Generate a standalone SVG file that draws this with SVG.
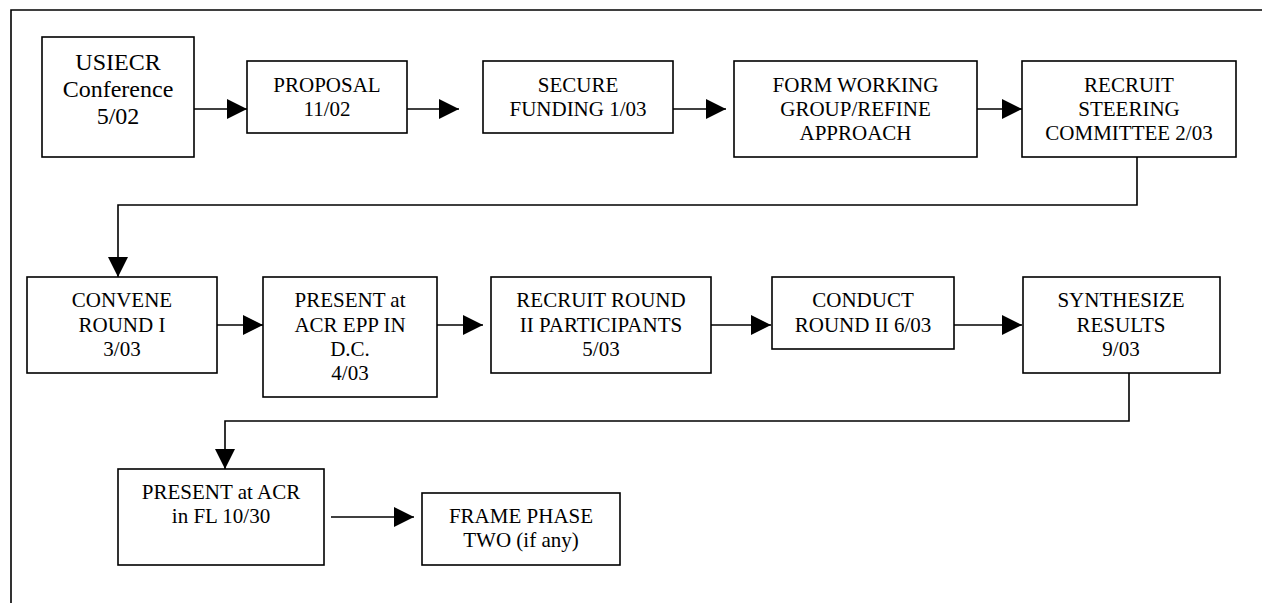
<svg xmlns="http://www.w3.org/2000/svg" width="1262" height="603" viewBox="0 0 1262 603">
<style>
  .box { fill: #fff; stroke: #000; stroke-width: 1.6; }
  .t { font-family: "Liberation Serif", "Times New Roman", serif; font-size: 21px; fill: #000; text-anchor: middle; }
  .t24 { font-size: 24px; }
  .ln { fill: none; stroke: #000; stroke-width: 1.6; }
</style>
<defs>
  <marker id="ah" markerUnits="userSpaceOnUse" markerWidth="20" markerHeight="20" refX="20" refY="10" orient="auto">
    <path d="M0,0 L20,10 L0,20 z" fill="#000"/>
  </marker>
</defs>
<rect width="1262" height="603" fill="#fff"/>
<path class="ln" d="M11,603 V10 H1262"/>

<g id="connectors">
  <path class="ln" marker-end="url(#ah)" d="M194,109 H247"/>
  <path class="ln" marker-end="url(#ah)" d="M407,109 H459"/>
  <path class="ln" marker-end="url(#ah)" d="M673,109 H726"/>
  <path class="ln" marker-end="url(#ah)" d="M977,109 H1022"/>
  <path class="ln" marker-end="url(#ah)" d="M1137,157 V205 H118 V277"/>
  <path class="ln" marker-end="url(#ah)" d="M217,325 H263"/>
  <path class="ln" marker-end="url(#ah)" d="M430,325 H483"/>
  <path class="ln" marker-end="url(#ah)" d="M711,325 H771"/>
  <path class="ln" marker-end="url(#ah)" d="M954,325 H1022"/>
  <path class="ln" marker-end="url(#ah)" d="M1129,373 V421 H225 V469"/>
  <path class="ln" marker-end="url(#ah)" d="M331,517 H414"/>
</g>

<g id="n1">
  <rect class="box" x="42" y="37" width="152" height="120"/>
  <text class="t t24" x="118" y="70">USIECR</text>
  <text class="t t24" x="118" y="97">Conference</text>
  <text class="t t24" x="118" y="124">5/02</text>
</g>
<g id="n2">
  <rect class="box" x="247" y="61" width="160" height="72"/>
  <text class="t" x="327" y="92">PROPOSAL</text>
  <text class="t" x="327" y="116">11/02</text>
</g>
<g id="n3">
  <rect class="box" x="483" y="61" width="190" height="72"/>
  <text class="t" x="578" y="92">SECURE</text>
  <text class="t" x="578" y="116">FUNDING 1/03</text>
</g>
<g id="n4">
  <rect class="box" x="734" y="61" width="243" height="96"/>
  <text class="t" x="855.5" y="92">FORM WORKING</text>
  <text class="t" x="855.5" y="116">GROUP/REFINE</text>
  <text class="t" x="855.5" y="140">APPROACH</text>
</g>
<g id="n5">
  <rect class="box" x="1022" y="61" width="214" height="96"/>
  <text class="t" x="1129" y="92">RECRUIT</text>
  <text class="t" x="1129" y="116">STEERING</text>
  <text class="t" x="1129" y="140">COMMITTEE 2/03</text>
</g>

<g id="n6">
  <rect class="box" x="27" y="277" width="190" height="96"/>
  <text class="t" x="122" y="307">CONVENE</text>
  <text class="t" x="122" y="332">ROUND I</text>
  <text class="t" x="122" y="356">3/03</text>
</g>
<g id="n7">
  <rect class="box" x="263" y="277" width="174" height="120"/>
  <text class="t" x="350" y="307">PRESENT at</text>
  <text class="t" x="350" y="332">ACR EPP IN</text>
  <text class="t" x="350" y="356">D.C.</text>
  <text class="t" x="350" y="380">4/03</text>
</g>
<g id="n8">
  <rect class="box" x="491" y="277" width="220" height="96"/>
  <text class="t" x="601" y="307">RECRUIT ROUND</text>
  <text class="t" x="601" y="332">II PARTICIPANTS</text>
  <text class="t" x="601" y="356">5/03</text>
</g>
<g id="n9">
  <rect class="box" x="772" y="277" width="182" height="72"/>
  <text class="t" x="863" y="307">CONDUCT</text>
  <text class="t" x="863" y="332">ROUND II 6/03</text>
</g>
<g id="n10">
  <rect class="box" x="1023" y="277" width="197" height="96"/>
  <text class="t" x="1121" y="307">SYNTHESIZE</text>
  <text class="t" x="1121" y="332">RESULTS</text>
  <text class="t" x="1121" y="356">9/03</text>
</g>

<g id="n11">
  <rect class="box" x="118" y="469" width="206" height="96"/>
  <text class="t" x="221" y="499">PRESENT at ACR</text>
  <text class="t" x="221" y="523">in FL 10/30</text>
</g>
<g id="n12">
  <rect class="box" x="422" y="493" width="198" height="72"/>
  <text class="t" x="521" y="523">FRAME PHASE</text>
  <text class="t" x="521" y="547">TWO (if any)</text>
</g>
</svg>
